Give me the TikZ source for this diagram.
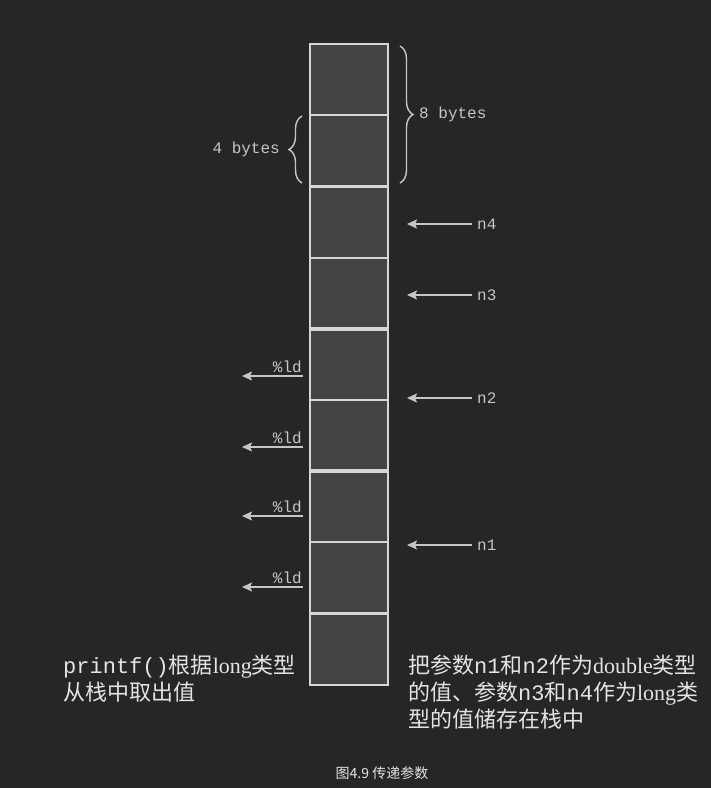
\documentclass[tikz,border=0pt]{standalone}
\usepackage{fontspec}
\setmainfont{Liberation Serif}
\setmonofont{Liberation Mono}
\newfontfamily\cjk{Noto Sans CJK SC}
\usetikzlibrary{arrows.meta,positioning,decorations.pathreplacing,calc}
\definecolor{bg}{HTML}{262626}
\definecolor{cellfill}{HTML}{444444}
\definecolor{edge}{HTML}{D6D6D6}
\definecolor{ink}{HTML}{C6C6C6}
\definecolor{inkhi}{HTML}{E4E4E4}
\newcommand\tm[1]{{\ttfamily #1}}
\newcommand\rmw[1]{{\rmfamily #1}}

\begin{document}
\begin{tikzpicture}[x=1pt,y=-1pt,>=Stealth,
 cell/.style={draw=edge,fill=cellfill,line width=2pt,minimum width=78pt,minimum height=71.2pt,inner sep=0pt,outer sep=0pt},
 divider/.style={draw=edge,line width=3.5pt},
 lbl/.style={text=ink,font=\ttfamily\fontsize{16}{19}\selectfont},
 ar/.style={->,line width=1.6pt,color=ink,arrows={-Stealth[length=10pt,width=9pt,inset=2pt]}},
 br/.style={decorate,decoration={brace,amplitude=13pt},line width=1.4pt,color=ink},
 note/.style={text=inkhi,anchor=base west,inner sep=0pt,font=\cjk\fontsize{22}{27}\selectfont}]
 \fill[bg] (0,0) rectangle (711,788);
 \useasboundingbox (0,0) rectangle (711,788);
 % stack cells
 \foreach \i in {1,...,9} \node[cell] (c\i) at (349,{44+71.2*(\i-.5)}) {};
 \foreach \i in {2,4,6,8} \draw[divider] (c\i.south west)--(c\i.south east);
 % braces
 \draw[br] (400,46)--(400,183);
 \draw[br] (302,183)--(302,116);
 \node[lbl,anchor=west,inner xsep=0pt] (b8) at (419,114) {8 bytes};
 \node[lbl,anchor=east,inner xsep=0pt] (b4) at (280,149) {4 bytes};
 % values pushed on the stack
 \foreach \n/\y in {n4/224,n3/295,n2/398,n1/545} {
  \node[lbl,anchor=west,inner xsep=5pt] (\n) at (472,\y) {\n};
  \coordinate (p\n) at (407,\y);
  \draw[ar] (\n)--(p\n);
 }
 % values read by printf
 \foreach \i/\y in {1/376,2/447,3/516,4/587} {
  \node[lbl,anchor=south east,inner xsep=1pt,inner ysep=3pt] (l\i) at (303,\y) {\%ld};
  \coordinate (q\i) at (242,\y);
  \draw[ar] (l\i.south east)--(q\i);
 }
 % notes
 \node[note] (t1) at (63,673) {\tm{printf()}根据\rmw{long}类型};
 \node[note] (t2) at (63,700) {从栈中取出值};
 \node[note] (t3) at (408,673) {把参数\tm{n1}和\tm{n2}作为\rmw{double}类型};
 \node[note] (t4) at (408,700) {的值、参数\tm{n3}和\tm{n4}作为\rmw{long}类};
 \node[note] (t5) at (408,727) {型的值储存在栈中};
 \node[text=inkhi,font=\cjk\fontsize{14}{16}\selectfont] (cap) at (382,773) {图4.9 传递参数};
\end{tikzpicture}
\end{document}
